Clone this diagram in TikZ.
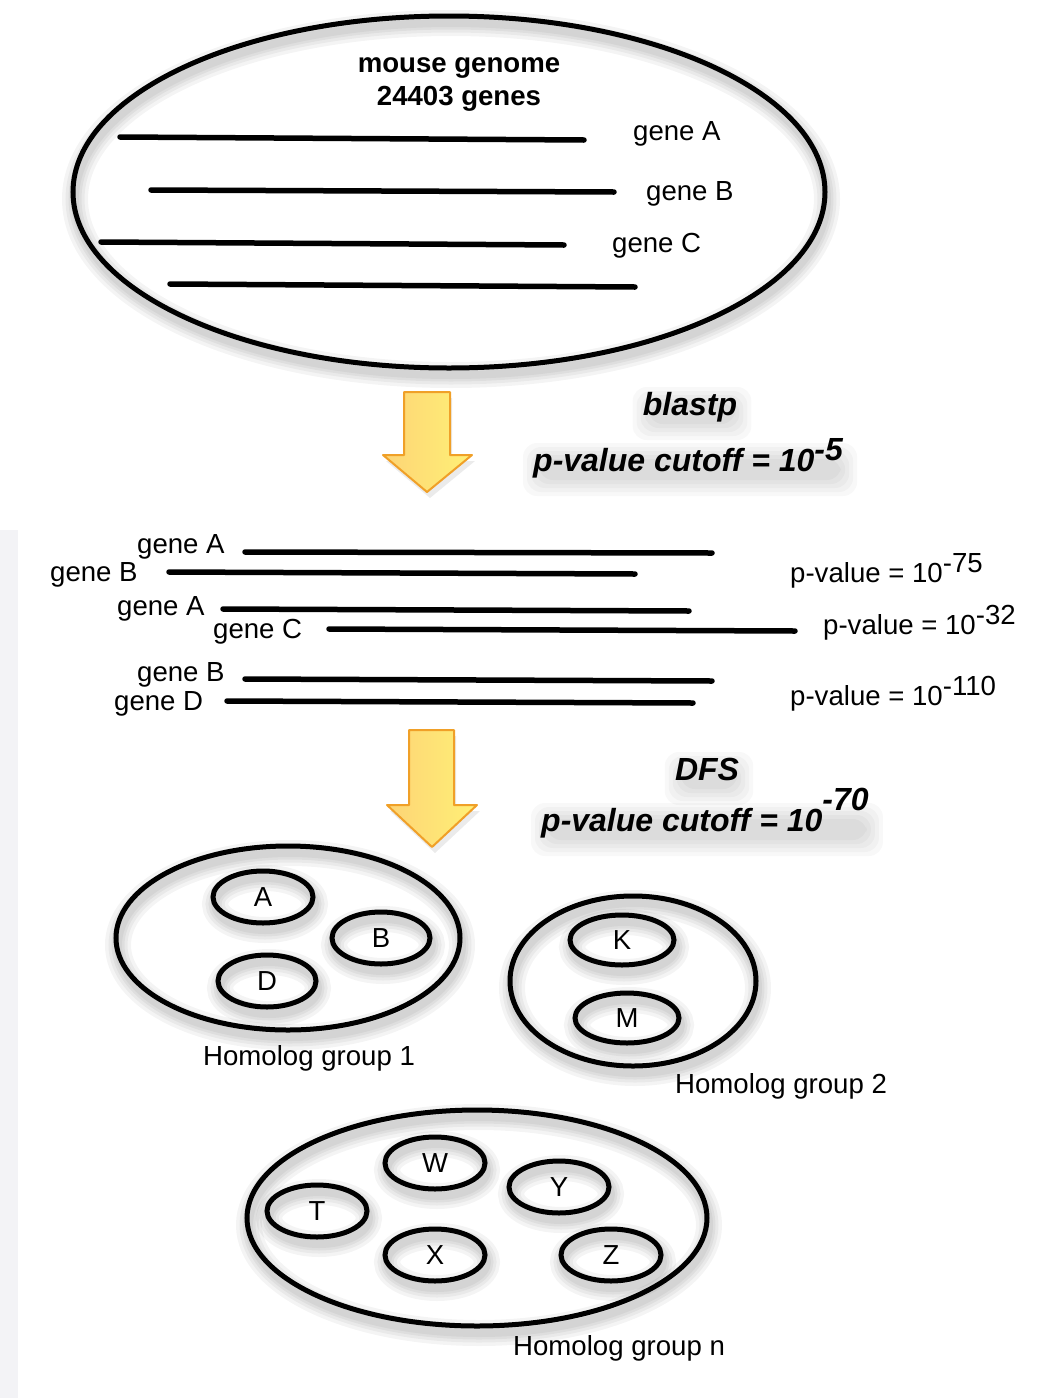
\documentclass[tikz,border=0pt]{standalone}
\usepackage{fontspec}
\setmainfont{Liberation Sans}
\usetikzlibrary{shapes.geometric}

\pgfdeclarelayer{bg}
\pgfdeclarelayer{haze}
\pgfsetlayers{bg,haze,main}

\definecolor{arrowedge}{RGB}{240,160,40}
\definecolor{arrowleft}{RGB}{253,212,118}
\definecolor{arrowright}{RGB}{255,240,118}
\definecolor{strip}{RGB}{243,243,246}

\tikzset{
  ring/.style={ellipse, draw=black, line width=5pt, inner sep=0pt,
               font=\fontsize{27.5}{32}\selectfont},
  geneline/.style={line width=5.5pt, line cap=round},
  lbl/.style={font=\fontsize{27.6}{32}\selectfont, inner sep=0pt},
  boldlbl/.style={font=\fontsize{32}{38}\selectfont\bfseries\itshape, inner sep=0pt},
  headlbl/.style={font=\fontsize{27.6}{32}\selectfont\bfseries, inner sep=0pt, align=center},
  bigarrow/.style={left color=arrowleft, right color=arrowright,
                   draw=arrowedge, line width=2pt, line join=round},
}

% ellipse node with a soft ring-shaped drop shadow
% #1 name, #2 #3 centre, #4 #5 radii, #6 text
\newcommand\blob[6]{%
  \foreach \w in {26,19,13,8}
    \draw[line width=\w pt, black, opacity=0.045]
      (#2+2,#3+7) ellipse [x radius=#4, y radius=#5];
  \node[ring, minimum width=2*#4, minimum height=2*#5] (#1) at (#2,#3) {#6};
}

% bold italic caption with a soft shadow haze beneath it
% #1 name, #2 #3 base point, #4 anchor, #5 text
\newcommand\glowlabel[5]{%
  \node[boldlbl, anchor=#4] (#1) at (#2,#3) {#5};
  \begin{pgfonlayer}{haze}
    \foreach \hz in {0,4,8,12,16}
      \fill[black, opacity=0.028, rounded corners=14pt]
        ([shift={(6-\hz,-12-\hz)}]#1.base west) rectangle
        ([shift={(-2+\hz,9+\hz)}]#1.base east);
  \end{pgfonlayer}
}

\begin{document}
\begin{tikzpicture}[x=1pt, y=-1pt]
\useasboundingbox (0,0) rectangle (1053,1398);
\begin{pgfonlayer}{bg}
  \fill[white] (0,0) rectangle (1053,1398);
  \fill[strip] (0,530) rectangle (18,1398);
\end{pgfonlayer}

% ---------- genome ----------
\blob{genome}{449}{192}{376}{176}{}
\node[headlbl, anchor=base] (title1) at (459,72) {mouse genome};
\node[headlbl, anchor=base] (title2) at (459,105) {24403 genes};

\draw[geneline] (120,137) -- (584,140);
\draw[geneline] (151,190) -- (614,192);
\draw[geneline] (101,242) -- (564,245);
\draw[geneline] (170,284) -- (635,287);

\node[lbl, anchor=base west] (tA) at (633,140) {gene A};
\node[lbl, anchor=base west] (tB) at (646,200) {gene B};
\node[lbl, anchor=base west] (tC) at (612,252) {gene C};

% ---------- blastp step ----------
\fill[black, opacity=0.08] (406,398) -- (452,398) -- (452,461) -- (475,461)
  -- (430,498) -- (386,461) -- (406,461) -- cycle;
\shadedraw[bigarrow] (404,392) -- (450,392) -- (450,455) -- (472,455)
  -- (427,492) -- (383,455) -- (404,455) -- cycle;

\glowlabel{blastp}{690}{415}{base}{blastp}
\glowlabel{cut1}{533}{471}{base west}{p-value cutoff = 10\raisebox{11pt}{-5}}

% ---------- pairwise hits ----------
\draw[geneline] (245,552) -- (712,553);
\draw[geneline] (169,572) -- (635,574);
\draw[geneline] (223,609) -- (689,611);
\draw[geneline] (329,629) -- (795,631);
\draw[geneline] (245,679) -- (712,681);
\draw[geneline] (227,701) -- (693,703);

\node[lbl, anchor=base west] (hA1) at (137,553) {gene A};
\node[lbl, anchor=base west] (hB1) at (50,581) {gene B};
\node[lbl, anchor=base west] (hA2) at (117,615) {gene A};
\node[lbl, anchor=base west] (hC)  at (213,638) {gene C};
\node[lbl, anchor=base west] (hB2) at (137,681) {gene B};
\node[lbl, anchor=base west] (hD)  at (114,710) {gene D};

\node[lbl, anchor=base west] (pv1) at (790,582) {p-value = 10\raisebox{10pt}{-75}};
\node[lbl, anchor=base west] (pv2) at (823,634) {p-value = 10\raisebox{10pt}{-32}};
\node[lbl, anchor=base west] (pv3) at (790,705) {p-value = 10\raisebox{10pt}{-110}};

% ---------- DFS step ----------
\fill[black, opacity=0.08] (411,736) -- (456,736) -- (456,811) -- (480,811)
  -- (435,853) -- (390,811) -- (411,811) -- cycle;
\shadedraw[bigarrow] (409,730) -- (454,730) -- (454,805) -- (477,805)
  -- (432,847) -- (387,805) -- (409,805) -- cycle;

\glowlabel{dfs}{707}{780}{base}{DFS}
\glowlabel{cut2}{541}{831}{base west}{p-value cutoff = 10\raisebox{21pt}{-70}}

% ---------- homolog group 1 ----------
\blob{grp1}{288}{938}{172}{92}{}
\blob{nA}{263}{897}{50}{26}{A}
\blob{nB}{381}{938}{49}{26}{B}
\blob{nD}{267}{981}{49}{26}{D}
\node[lbl, anchor=base west] (l1) at (203,1065) {Homolog group 1};

% ---------- homolog group 2 ----------
\blob{grp2}{633}{981}{123}{85}{}
\blob{nK}{622}{940}{52}{25}{K}
\blob{nM}{627}{1018}{52}{25}{M}
\node[lbl, anchor=base west] (l2) at (675,1093) {Homolog group 2};

% ---------- homolog group n ----------
\blob{grpn}{477}{1218}{230}{108}{}
\blob{nW}{435}{1163}{50}{26}{W}
\blob{nT}{317}{1211}{50}{26}{T}
\blob{nY}{559}{1187}{50}{26}{Y}
\blob{nX}{435}{1255}{50}{26}{X}
\blob{nZ}{611}{1255}{50}{26}{Z}
\node[lbl, anchor=base west] (ln) at (513,1355) {Homolog group n};

\end{tikzpicture}
\end{document}
